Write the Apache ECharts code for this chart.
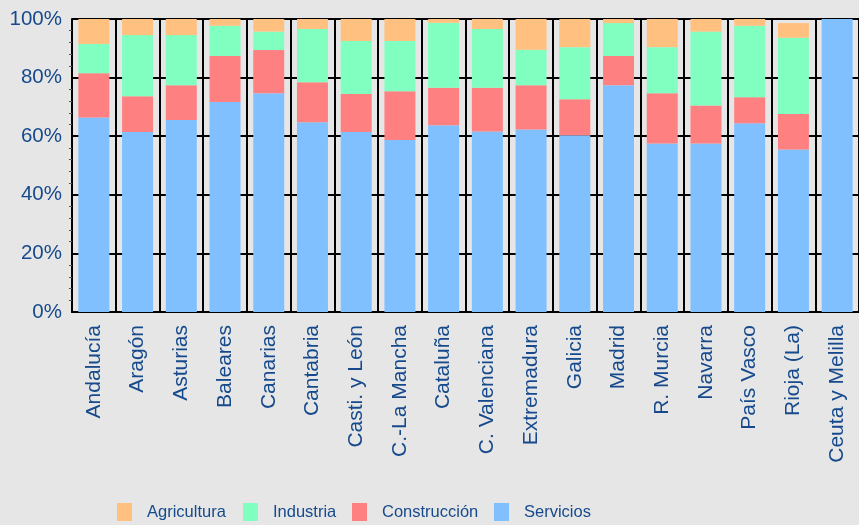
<!DOCTYPE html>
<html>
<head>
<meta charset="utf-8">
<script src="https://cdn.jsdelivr.net/npm/echarts@6/dist/echarts.min.js"></script>
<style>
  html, body { margin: 0; padding: 0; background: #e6e6e6; }
  #main { width: 859px; height: 525px; }
</style>
</head>
<body>
<div id="main"></div>
<script>
var regiones = ['Andalucía', 'Aragón', 'Asturias', 'Baleares', 'Canarias', 'Cantabria',
  'Casti. y León', 'C.-La Mancha', 'Cataluña', 'C. Valenciana', 'Extremadura', 'Galicia',
  'Madrid', 'R. Murcia', 'Navarra', 'País Vasco', 'Rioja (La)', 'Ceuta y Melilla'];

var servicios    = [66.4, 61.4, 65.5, 71.7, 74.7, 64.8, 61.4, 58.7, 63.7, 61.6, 62.3, 60.3, 77.4, 57.5, 57.5, 64.4, 55.5, 100];
var construccion = [15.1, 12.2, 11.9, 15.7, 14.7, 13.6, 13.0, 16.6, 12.8, 14.9, 15.1, 12.3, 10.0, 17.2, 13.0, 8.9, 12.1, 0];
var industria    = [10.0, 20.9, 17.1, 10.3, 6.3, 18.2, 18.1, 17.2, 22.2, 20.1, 12.1, 17.8, 11.2, 15.7, 25.2, 24.4, 26.0, 0];
var agricultura  = [8.5, 5.5, 5.5, 2.3, 4.3, 3.4, 7.5, 7.5, 1.3, 3.4, 10.5, 9.6, 1.4, 9.6, 4.3, 2.3, 5.0, 0];

var yTicks = [0, 20, 40, 60, 80, 100];

var textColor = '#164a8c';
var fontFamily = '"Liberation Sans", Arial, sans-serif';

var chart = echarts.init(document.getElementById('main'));

// one legend per item so each sits where the original puts it
var legendNames = ['Agricultura', 'Industria', 'Construcción', 'Servicios'];
var legendLeft = [117, 243, 352, 494];
var legends = legendNames.map(function (n, i) {
  return {
    data: [{ name: n, icon: 'rect' }],
    left: legendLeft[i],
    top: 503,
    itemWidth: 15,
    itemHeight: 18,
    itemGap: 0,
    padding: 0,
    selectedMode: false,
    textStyle: {
      color: textColor,
      fontSize: 16.5,
      fontFamily: fontFamily,
      padding: [0, 0, 0, 10]
    }
  };
});

function bar(name, data, color) {
  return {
    name: name,
    type: 'bar',
    stack: 'total',
    barWidth: 31,
    data: data,
    itemStyle: { color: color },
    emphasis: { disabled: true }
  };
}

var option = {
  backgroundColor: '#e6e6e6',
  animation: false,
  grid: {
    left: 72,
    right: -10,
    top: 19,
    bottom: 213
  },
  legend: legends,
  xAxis: {
    type: 'category',
    data: regiones,
    axisLine: { lineStyle: { color: '#000', width: 2 } },
    axisTick: { show: false },
    splitLine: { show: true, lineStyle: { color: '#000', width: 2 } },
    axisLabel: {
      interval: 0,
      rotate: 90,
      margin: 13,
      color: textColor,
      fontSize: 21,
      fontFamily: fontFamily
    }
  },
  yAxis: {
    type: 'value',
    min: yTicks[0],
    max: yTicks[yTicks.length - 1],
    interval: 20,
    axisLine: { show: true, lineStyle: { color: '#000', width: 2 } },
    axisTick: { show: false },
    minorTick: { show: true, splitNumber: 5, length: 3, lineStyle: { color: '#555' } },
    splitLine: { show: true, lineStyle: { color: '#000', width: 2 } },
    axisLabel: {
      margin: 10,
      color: textColor,
      fontSize: 20.5,
      fontFamily: fontFamily,
      formatter: '{value}%'
    }
  },
  series: [
    bar('Servicios', servicios, '#80c0ff'),
    bar('Construcción', construccion, '#ff8080'),
    bar('Industria', industria, '#80ffc0'),
    bar('Agricultura', agricultura, '#ffc080')
  ]
};

chart.setOption(option);
</script>
</body>
</html>
